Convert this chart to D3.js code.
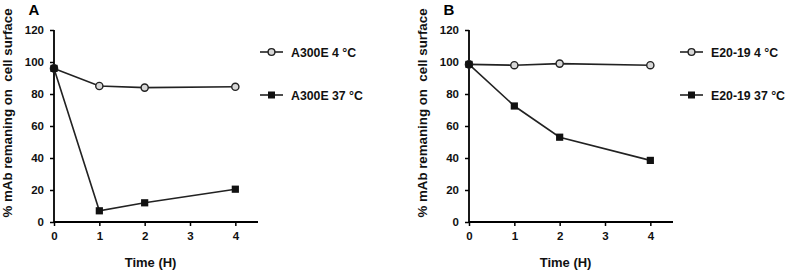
<!DOCTYPE html>
<html>
<head>
<meta charset="utf-8">
<script src="https://cdn.jsdelivr.net/npm/d3@7"></script>
<style>
  body { margin: 0; background: #fff; }
  svg { font-family: Arial, "Liberation Sans", sans-serif; font-weight: bold; }
</style>
</head>
<body>
<div id="chart"></div>
<script>
// data
const times = [0, 1, 2, 4];
const xTicks = [0, 1, 2, 3, 4];
const yTicks = [0, 20, 40, 60, 80, 100, 120];

const a300e4 = [96, 85, 84, 84.5];
const a300e37 = [96, 7, 12, 20.5];
const e2019_4 = [98.5, 98, 99, 98];
const e2019_37 = [98.5, 72.5, 53, 38.5];

const panels = [
  { letter: "A", left: 54, legendX: 260,
    series: [
      { name: "A300E 4 °C", values: a300e4, marker: "circle" },
      { name: "A300E 37 °C", values: a300e37, marker: "square" }
    ] },
  { letter: "B", left: 469, legendX: 680,
    series: [
      { name: "E20-19 4 °C", values: e2019_4, marker: "circle" },
      { name: "E20-19 37 °C", values: e2019_37, marker: "square" }
    ] }
];

const svg = d3.select("#chart").append("svg")
  .attr("width", 787)
  .attr("height", 272);

const plotTop = 30, plotBottom = 222, plotW = 204;

panels.forEach(p => {
  const g = svg.append("g").attr("transform", `translate(${p.left},0)`);

  const x = d3.scaleLinear().domain([0, 4.5]).range([0, plotW]);
  const y = d3.scaleLinear().domain([0, 120]).range([plotBottom, plotTop]);

  // axes
  const yAx = g.append("g")
    .call(d3.axisLeft(y).tickValues(yTicks).tickSize(4).tickPadding(6));
  const xAx = g.append("g")
    .attr("transform", `translate(0,${plotBottom})`)
    .call(d3.axisBottom(x).tickValues(xTicks).tickFormat(d3.format("d"))
      .tickSize(4).tickPadding(6));
  [yAx, xAx].forEach(ax => {
    ax.select(".domain").attr("stroke", "#000").attr("stroke-width", 1.8);
    ax.selectAll(".tick line").attr("stroke", "#000").attr("stroke-width", 1.5);
    ax.selectAll("text").attr("font-size", 11.5).attr("font-weight", "bold")
      .attr("font-family", "Arial, 'Liberation Sans', sans-serif").attr("fill", "#111");
  });
  yAx.select(".domain").attr("d", `M0,${plotTop}V${plotBottom}`);
  xAx.select(".domain").attr("d", `M0,0H${plotW}`);

  // panel letter
  svg.append("text")
    .attr("x", p.left - 20)
    .attr("y", 15)
    .attr("text-anchor", "middle")
    .attr("font-size", 15)
    .text(p.letter);

  // axis titles
  svg.append("text")
    .attr("transform", `translate(${p.left - 42},${(plotTop + plotBottom) / 2 - 13}) rotate(-90)`)
    .attr("text-anchor", "middle")
    .attr("font-size", 13.3)
    .attr("fill", "#111")
    .attr("xml:space", "preserve")
    .text("% mAb remaning on  cell surface");

  svg.append("text")
    .attr("x", p.left + x(2.13))
    .attr("y", 267)
    .attr("text-anchor", "middle")
    .attr("font-size", 13)
    .attr("fill", "#111")
    .text("Time (H)");

  const line = d3.line()
    .x((d, i) => x(times[i]))
    .y(d => y(d));

  p.series.forEach(s => {
    g.append("path")
      .attr("d", line(s.values))
      .attr("fill", "none")
      .attr("stroke", "#222")
      .attr("stroke-width", 1.6);
  });
  // circles first, squares on top where the series meet at time 0
  p.series.forEach(s => {
    const pts = g.append("g").selectAll("g")
      .data(s.values)
      .join("g")
      .attr("transform", (d, i) => `translate(${x(times[i])},${y(d)})`);
    if (s.marker === "circle") {
      pts.append("circle").attr("r", 3.6)
        .attr("fill", "#d8d8d8").attr("stroke", "#222").attr("stroke-width", 1.4);
    } else {
      pts.append("rect").attr("x", -3.6).attr("y", -3.6)
        .attr("width", 7.2).attr("height", 7.2).attr("fill", "#111");
    }
  });

  // legend
  const leg = svg.append("g").selectAll("g")
    .data(p.series)
    .join("g")
    .attr("transform", (d, i) => `translate(${p.legendX},${52 + i * 43})`);
  leg.append("line")
    .attr("x1", 0).attr("x2", 23)
    .attr("stroke", "#222").attr("stroke-width", 1.6);
  leg.each(function(d) {
    const el = d3.select(this);
    if (d.marker === "circle") {
      el.append("circle").attr("cx", 11.5).attr("r", 3.4)
        .attr("fill", "#d8d8d8").attr("stroke", "#222").attr("stroke-width", 1.4);
    } else {
      el.append("rect").attr("x", 8).attr("y", -3.5)
        .attr("width", 7).attr("height", 7).attr("fill", "#111");
    }
  });
  leg.append("text")
    .attr("x", 31)
    .attr("y", 4.5)
    .attr("font-size", 12.3)
    .attr("fill", "#111")
    .text(d => d.name);
});
</script>
</body>
</html>
